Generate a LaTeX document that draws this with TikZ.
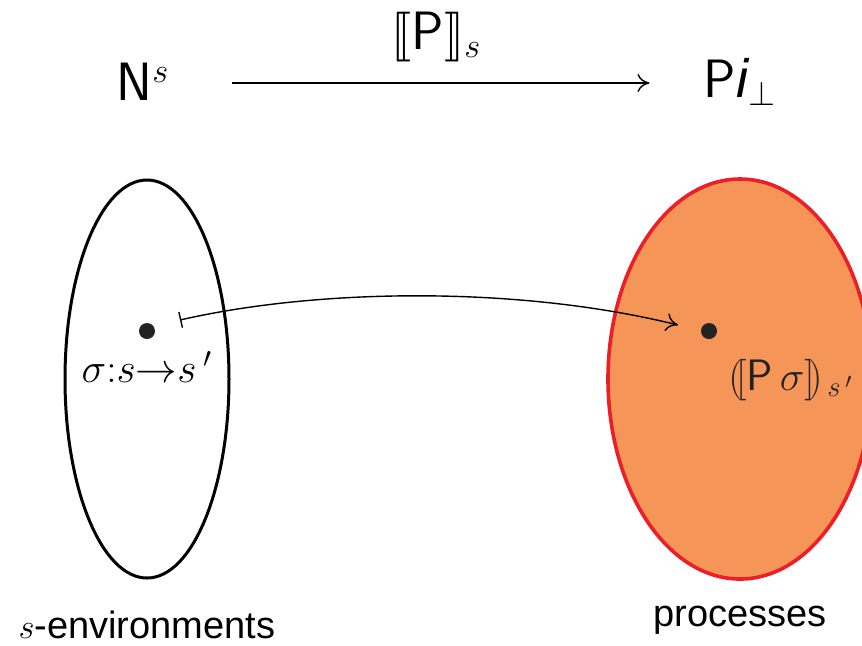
\documentclass[tikz,border=0pt]{standalone}
\usepackage{amsmath}
\usepackage{amssymb}
\usepackage{stmaryrd}
\usepackage{fontspec}
\setmainfont{Liberation Sans}
\usepackage{tikz}
\usetikzlibrary{calc,positioning,arrows.meta}
\definecolor{procfill}{RGB}{246,149,88}
\definecolor{procedge}{RGB}{236,30,38}
\definecolor{inkc}{RGB}{35,35,35}
\tikzset{
  big/.style={font=\fontsize{27}{30}\selectfont,inner sep=2pt},
  mid/.style={font=\fontsize{22}{25}\selectfont,inner sep=0pt},
  setlabel/.style={font=\fontsize{19}{22}\selectfont,inner sep=0pt},
  pt/.style={circle,fill=inkc,minimum size=8pt,inner sep=0pt},
  envset/.style={draw=black,line width=1.5pt},
  procset/.style={draw=procedge,fill=procfill,line width=1.8pt},
  maparrow/.style={line width=0.7pt,{Bar[width=8pt]}-{To[length=6pt,width=9pt]}},
}

\begin{document}
\begin{tikzpicture}[x=0.5pt,y=-0.5pt]
  \useasboundingbox (0,0) rectangle (862,645);
  % the two sets
  \draw[envset] (147,379) ellipse [x radius=82,y radius=199];
  \draw[procset] (740,379) ellipse [x radius=132,y radius=200];
  % top row
  \node[big] (Ns) at (143,82) {$\mathsf{N}^{s}$};
  \node[big] (Pi) at (740,82) {$\mathsf{P}\mathit{i}_{\perp}$};
  \draw[line width=0.7pt,-{To[length=6pt,width=9pt]},shorten <=29pt,shorten >=25pt]
    (Ns.east |- 0,83) -- (Pi.west |- 0,83)
    node[midway,above=8pt,big] (den) {$\llbracket \mathsf{P}\rrbracket_{s}$};
  % points and the map
  \node[pt] (env) at (147,331) {};
  \node[pt] (proc) at (709,331) {};
  \node[mid,below=6pt of env] (envlab) {$\sigma{:}s{\to}s\,'$};
  \node[mid,text=inkc,anchor=west] (proclab) at (728,380) {$(\![\mathsf{P}\,\sigma]\!)_{\,s\,'}$};
  \coordinate (mapstart) at (180,320);
  \coordinate (mapend) at (678,325);
  \draw[maparrow] (mapstart) .. controls (320,288) and (520,286) .. (mapend);
  % captions
  \node[setlabel] (envcap) at (147,625) {$s$-environments};
  \node[setlabel] (proccap) at (740,620) {processes};
\end{tikzpicture}
\end{document}
